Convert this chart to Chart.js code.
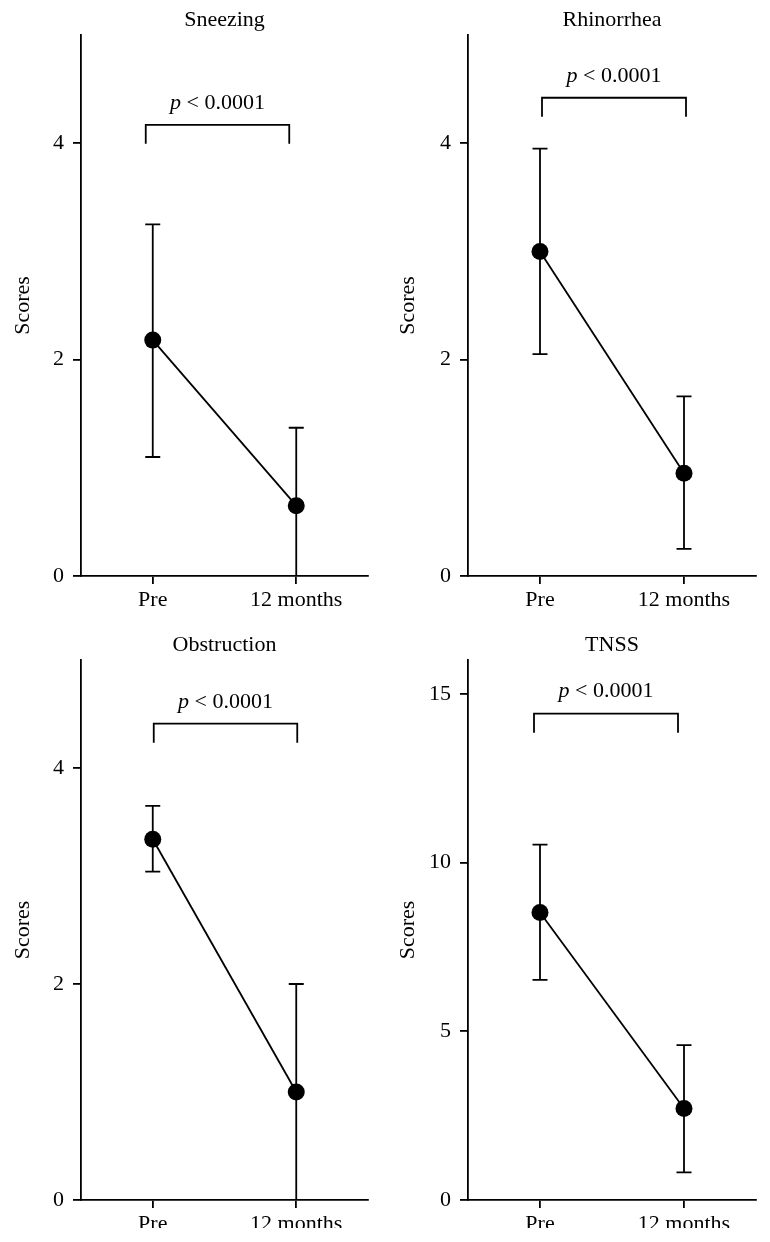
<!DOCTYPE html>
<html>
<head>
<meta charset="utf-8">
<title>Nasal symptom scores</title>
<script src="https://cdn.jsdelivr.net/npm/chart.js@4.4.0/dist/chart.umd.min.js"></script>
<style>
  html, body { margin: 0; padding: 0; background: #fff; }
  .panel { position: absolute; }
</style>
</head>
<body>
<div class="panel" style="left:0;top:0;width:385px;height:621px"><canvas id="sneezing"></canvas></div>
<div class="panel" style="left:385px;top:0;width:385px;height:621px"><canvas id="rhinorrhea"></canvas></div>
<div class="panel" style="left:0;top:621px;width:385px;height:607px"><canvas id="obstruction"></canvas></div>
<div class="panel" style="left:385px;top:621px;width:385px;height:607px"><canvas id="tnss"></canvas></div>
<script>
const categories = ['Pre', '12 months'];

// mean score with the ends of the error bars
const sneezingMean = [2.18, 0.65];
const sneezingLow = [1.10, 0];
const sneezingHigh = [3.25, 1.37];

const rhinorrheaMean = [3.00, 0.95];
const rhinorrheaLow = [2.05, 0.25];
const rhinorrheaHigh = [3.95, 1.66];

const obstructionMean = [3.34, 1.00];
const obstructionLow = [3.04, 0];
const obstructionHigh = [3.65, 2.00];

const tnssMean = [8.52, 2.71];
const tnssLow = [6.52, 0.82];
const tnssHigh = [10.53, 4.59];

// y axis ticks and top of each axis
const scoreTicks = [0, 2, 4];
const tnssTicks = [0, 5, 10, 15];
const scoreMax = 5;
const tnssMax = 16;

// level of the comparison bracket in each panel, and its label
const bracketLevels = [4.17, 4.42, 4.41, 14.41];
const pLetter = 'p';
const pValue = ' < 0.0001';

const FONT = '"Liberation Serif", "Times New Roman", serif';
const FONT_SIZE = 22;
const LINE = 1.8;
Chart.defaults.font.family = FONT;
Chart.defaults.font.size = FONT_SIZE;
Chart.defaults.color = '#000';

// error bars go under the points; title and bracket are drawn last
const annotatePlugin = {
    id: 'annotate',
    beforeDatasetsDraw(chart, args, opts) {
        const ctx = chart.ctx;
        const x = chart.scales.x, y = chart.scales.y;
        ctx.save();
        ctx.strokeStyle = '#000';
        ctx.lineWidth = LINE;
        opts.low.forEach(function(low, i) {
            const px = x.getPixelForValue(i);
            const top = y.getPixelForValue(opts.high[i]);
            const bottom = y.getPixelForValue(low);
            ctx.beginPath();
            ctx.moveTo(px, top);
            ctx.lineTo(px, bottom);
            ctx.moveTo(px - 7.5, top);
            ctx.lineTo(px + 7.5, top);
            if (low > 0) {
                ctx.moveTo(px - 7.5, bottom);
                ctx.lineTo(px + 7.5, bottom);
            }
            ctx.stroke();
        });
        ctx.restore();
    },
    afterDraw(chart, args, opts) {
        const ctx = chart.ctx;
        const area = chart.chartArea;
        const x = chart.scales.x, y = chart.scales.y;
        ctx.save();
        ctx.fillStyle = '#000';
        ctx.strokeStyle = '#000';
        ctx.lineWidth = LINE;

        // panel title
        ctx.font = FONT_SIZE + 'px ' + FONT;
        ctx.textAlign = 'center';
        ctx.textBaseline = 'middle';
        ctx.fillText(opts.title, (area.left + area.right) / 2, area.top - 15);

        // bracket between the two time points
        const x0 = x.getPixelForValue(0) + opts.shift;
        const x1 = x.getPixelForValue(1) + opts.shift;
        const by = y.getPixelForValue(opts.bracket);
        ctx.beginPath();
        ctx.moveTo(x0, by + 19);
        ctx.lineTo(x0, by);
        ctx.lineTo(x1, by);
        ctx.lineTo(x1, by + 19);
        ctx.stroke();

        // "p < 0.0001" with an italic p
        const italic = 'italic ' + FONT_SIZE + 'px ' + FONT;
        const normal = FONT_SIZE + 'px ' + FONT;
        ctx.font = italic;
        const wP = ctx.measureText(pLetter).width;
        ctx.font = normal;
        const wV = ctx.measureText(pValue).width;
        const tx = (x0 + x1) / 2 - (wP + wV) / 2;
        ctx.textAlign = 'left';
        ctx.font = italic;
        ctx.fillText(pLetter, tx, by - 22);
        ctx.font = normal;
        ctx.fillText(pValue, tx + wP, by - 22);
        ctx.restore();
    }
};

function makeChart(id, title, mean, low, high, ticks, yMax, bracket, box) {
    const axisGrid = { drawOnChartArea: false, tickLength: 8, color: '#000', lineWidth: LINE };
    const axisBorder = { display: true, color: '#000', width: LINE };
    return new Chart(document.getElementById(id), {
        type: 'line',
        data: {
            labels: categories,
            datasets: [{
                data: mean,
                borderColor: '#000',
                borderWidth: LINE,
                pointRadius: 8.5,
                pointBackgroundColor: '#000',
                pointBorderWidth: 0,
                fill: false,
                tension: 0
            }]
        },
        options: {
            responsive: true,
            maintainAspectRatio: false,
            animation: false,
            events: [],
            layout: { padding: { top: box.top, right: box.right, bottom: 0, left: 0 } },
            plugins: {
                legend: { display: false },
                tooltip: { enabled: false },
                annotate: { title: title, low: low, high: high, bracket: bracket, shift: box.shift }
            },
            scales: {
                x: {
                    offset: true,
                    grid: Object.assign({ offset: false }, axisGrid),
                    border: axisBorder,
                    ticks: { padding: 3, maxRotation: 0 },
                    afterFit: function(scale) { scale.height = box.xHeight; }
                },
                y: {
                    min: 0,
                    max: yMax,
                    grid: axisGrid,
                    border: axisBorder,
                    ticks: { padding: 9 },
                    title: { display: true, text: 'Scores', padding: { top: 10, bottom: 0 } },
                    afterBuildTicks: function(scale) {
                        scale.ticks = ticks.map(function(v) { return { value: v }; });
                    },
                    afterFit: function(scale) { scale.width = box.yWidth; }
                }
            }
        },
        plugins: [annotatePlugin]
    });
}

makeChart('sneezing', 'Sneezing', sneezingMean, sneezingLow, sneezingHigh,
    scoreTicks, scoreMax, bracketLevels[0], { top: 35, right: 17, xHeight: 45, yWidth: 81, shift: -7 });
makeChart('rhinorrhea', 'Rhinorrhea', rhinorrheaMean, rhinorrheaLow, rhinorrheaHigh,
    scoreTicks, scoreMax, bracketLevels[1], { top: 35, right: 14, xHeight: 45, yWidth: 83, shift: 2 });
makeChart('obstruction', 'Obstruction', obstructionMean, obstructionLow, obstructionHigh,
    scoreTicks, scoreMax, bracketLevels[2], { top: 39, right: 17, xHeight: 28, yWidth: 81, shift: 1 });
makeChart('tnss', 'TNSS', tnssMean, tnssLow, tnssHigh,
    tnssTicks, tnssMax, bracketLevels[3], { top: 39, right: 14, xHeight: 28, yWidth: 83, shift: -6 });
</script>
</body>
</html>
